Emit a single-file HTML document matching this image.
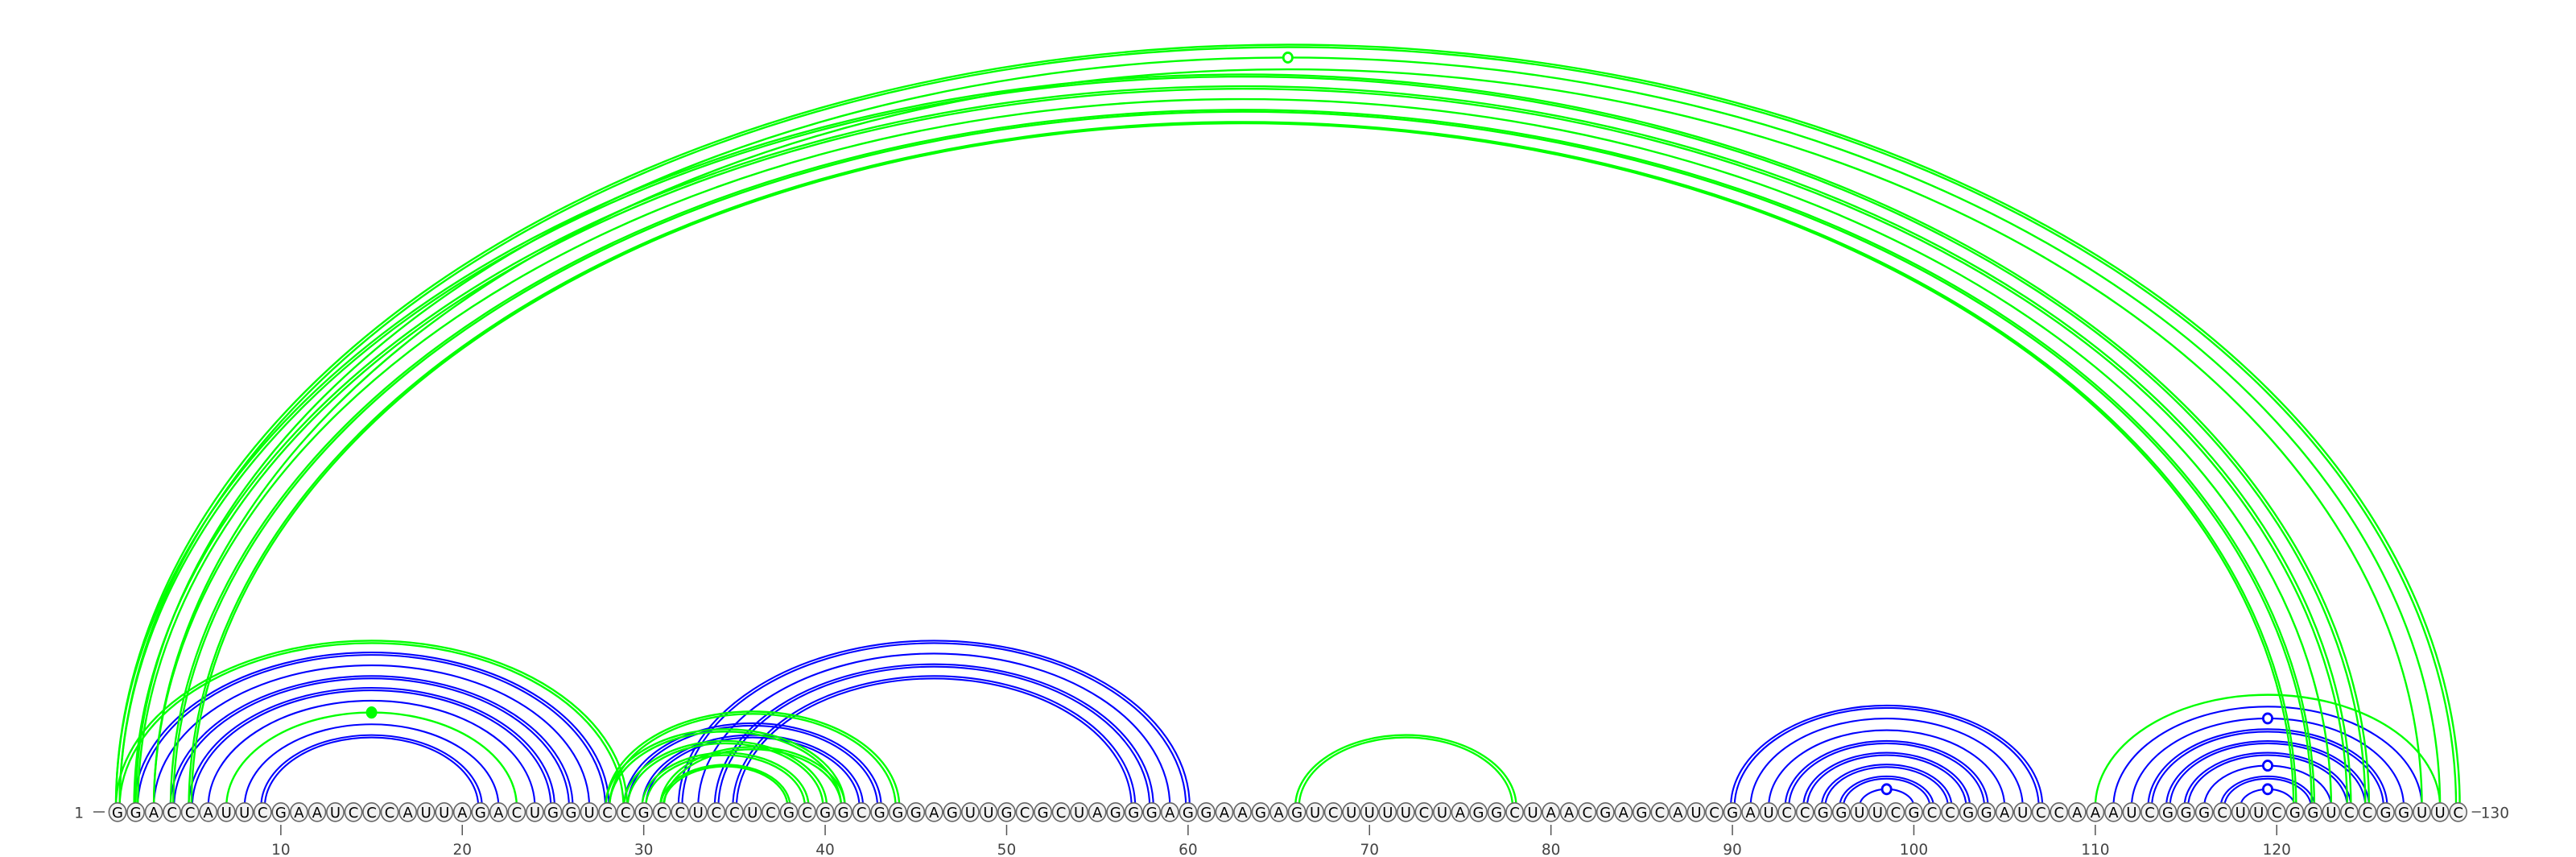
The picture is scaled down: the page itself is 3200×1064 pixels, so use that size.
<!DOCTYPE html>
<html>
<head>
<meta charset="utf-8">
<title>RNA arc diagram</title>
<style>
html,body{margin:0;padding:0;background:#fff;width:3200px;height:1064px;overflow:hidden}
svg{display:block}
text{font-family:"DejaVu Sans","Liberation Sans",sans-serif}
</style>
</head>
<body>
<svg id="chart" xmlns="http://www.w3.org/2000/svg" width="3200" height="1064" viewBox="0 0 3200 1064">
<rect width="3200" height="1064" fill="#fff"/>
<g id="blue-arcs" fill="none" stroke="#0000ff" stroke-width="2.1"></g>
<g id="green-arcs" fill="none" stroke="#00ff00" stroke-width="2.4"></g>
<g id="markers"></g>
<g id="bases"></g>
<g id="ticks"></g>
</svg>
<script>
// Sequence
const sequence = "GGACCAUUCGAAUCCCAUUAGACUGGUCCGCCUCCUCGCGGCGGGAGUUGCGCUAGGGAGGAAGAGUCUUUUCUAGGCUAACGAGCAUCGAUCCGGUUCGCCGGAUCCAAAUCGGGCUUCGGUCCGGUUC";
// Blue base pairs (strands: 1 = single line, 2 = doubled line, 3 = tightly doubled line)
const blueStarts  = [2,3,4,5,6,8,9, 29,30, 32,33,34,35, 90,91,92,93,94,95,96,97, 111,112,113,114,115,116,117,118];
const blueEnds    = [28,27,26,25,24,22,21, 43,42, 60,59,58,57, 107,106,105,104,103,102,101,100, 128,127,126,125,124,123,122,121];
const blueStrands = [2,1,2,2,1,1,2, 2,2, 2,1,2,2, 2,1,1,2,2,2,2,1, 1,1,2,2,2,1,2,1];
// Green base pairs
const greenStarts  = [1,2,3,1,2,3,4,5, 1,7, 28,28,29,31,30,31, 66, 110];
const greenEnds    = [130,129,128,125,124,123,122,121, 29,23, 44,41,40,41,39,38, 78, 129];
const greenStrands = [2,1,1,2,2,1,3,3, 2,1, 2,2,2,2,2,3, 2, 1];
// Markers sitting on the apex of an arc
const markerStarts = [2,7,97,112,116,118];
const markerEnds   = [129,23,100,127,123,121];
const markerColors = ["#00ff00","#00ff00","#0000ff","#0000ff","#0000ff","#0000ff"];
const markerFilled = [false,true,false,false,false,false];
// Axis
const tickPositions = [10,20,30,40,50,60,70,80,90,100,110,120];
const firstPosition = 1;
const lastPosition = 130;

const NS = "http://www.w3.org/2000/svg";
function xScale(pos){ return 146 + (pos - 1) * 22.54; }
const arcBaseY = 1001.8;
const arcAspect = 0.65;
function arcRadiusX(a, b){ return (xScale(b) - xScale(a)) / 2; }
function arcApexY(a, b){ return arcBaseY - arcRadiusX(a, b) * arcAspect; }
function strandOffsets(kind){
  if (kind === 2) return [2.0, -2.6];
  if (kind === 3) return [1.6, -1.6];
  return [0];
}

function arcPath(a, b, offset){
  const rx = arcRadiusX(a, b) + offset;
  const cx = (xScale(a) + xScale(b)) / 2;
  const ry = rx * arcAspect;
  return "M" + (cx - rx).toFixed(2) + " " + arcBaseY + " A" + rx.toFixed(2) + " " + ry.toFixed(2) + " 0 0 1 " + (cx + rx).toFixed(2) + " " + arcBaseY;
}

function drawArcs(groupId, starts, ends, strands, label){
  const group = document.getElementById(groupId);
  starts.forEach(function(s, n){
    strandOffsets(strands[n]).forEach(function(off){
      const p = document.createElementNS(NS, "path");
      p.setAttribute("d", arcPath(s, ends[n], off));
      
      
      group.appendChild(p);
    });
  });
}
drawArcs("blue-arcs", blueStarts, blueEnds, blueStrands, "blue-base-pair-arc");
drawArcs("green-arcs", greenStarts, greenEnds, greenStrands, "green-base-pair-arc");

const markerGroup = document.getElementById("markers");
markerStarts.forEach(function(s, n){
  const e = markerEnds[n];
  const c = document.createElementNS(NS, "ellipse");
  c.setAttribute("cx", (xScale(s) + xScale(e)) / 2);
  c.setAttribute("cy", arcApexY(s, e));
  c.setAttribute("rx", markerFilled[n] ? 6.8 : 5.6);
  c.setAttribute("ry", markerFilled[n] ? 7.4 : 6);
  c.setAttribute("fill", markerFilled[n] ? markerColors[n] : "#fff");
  c.setAttribute("stroke", markerColors[n]);
  c.setAttribute("stroke-width", markerFilled[n] ? 0.5 : 2.8);
  
  
  markerGroup.appendChild(c);
});

const baseGroup = document.getElementById("bases");
sequence.split("").forEach(function(letter, n){
  const pos = n + 1;
  const e = document.createElementNS(NS, "ellipse");
  e.setAttribute("cx", xScale(pos));
  e.setAttribute("cy", 1008.3);
  e.setAttribute("rx", 10.6);
  e.setAttribute("ry", 11.5);
  e.setAttribute("fill", "#f2f2f2");
  e.setAttribute("stroke", "#666");
  e.setAttribute("stroke-width", 1.6);
  
  
  baseGroup.appendChild(e);
  const t = document.createElementNS(NS, "text");
  t.setAttribute("x", xScale(pos));
  t.setAttribute("y", 1015);
  t.setAttribute("text-anchor", "middle");
  t.setAttribute("font-size", "18");
  t.setAttribute("fill", "#000");
  t.textContent = letter;
  
  
  baseGroup.appendChild(t);
});

const tickGroup = document.getElementById("ticks");
tickPositions.forEach(function(pos){
  const l = document.createElementNS(NS, "line");
  l.setAttribute("x1", xScale(pos));
  l.setAttribute("x2", xScale(pos));
  l.setAttribute("y1", 1024);
  l.setAttribute("y2", 1037);
  l.setAttribute("stroke", "#555");
  l.setAttribute("stroke-width", 1.5);
  
  
  tickGroup.appendChild(l);
  const t = document.createElementNS(NS, "text");
  t.setAttribute("x", xScale(pos));
  t.setAttribute("y", 1061);
  t.setAttribute("text-anchor", "middle");
  t.setAttribute("font-size", "18.5");
  t.setAttribute("fill", "#444");
  t.textContent = String(pos);
  
  
  tickGroup.appendChild(t);
});

const startLabel = document.createElementNS(NS, "text");
startLabel.setAttribute("x", xScale(firstPosition) - 42);
startLabel.setAttribute("y", 1015.5);
startLabel.setAttribute("text-anchor", "end");
startLabel.setAttribute("font-size", "18.5");
startLabel.setAttribute("fill", "#444");
startLabel.textContent = String(firstPosition);


tickGroup.appendChild(startLabel);

const startDash = document.createElementNS(NS, "line");
startDash.setAttribute("x1", xScale(firstPosition) - 30);
startDash.setAttribute("x2", xScale(firstPosition) - 16);
startDash.setAttribute("y1", 1008);
startDash.setAttribute("y2", 1008);
startDash.setAttribute("stroke", "#555");
startDash.setAttribute("stroke-width", 1.5);


tickGroup.appendChild(startDash);

const endDash = document.createElementNS(NS, "line");
endDash.setAttribute("x1", xScale(lastPosition) + 17);
endDash.setAttribute("x2", xScale(lastPosition) + 28);
endDash.setAttribute("y1", 1008);
endDash.setAttribute("y2", 1008);
endDash.setAttribute("stroke", "#555");
endDash.setAttribute("stroke-width", 1.5);


tickGroup.appendChild(endDash);

const endLabel = document.createElementNS(NS, "text");
endLabel.setAttribute("x", xScale(lastPosition) + 28);
endLabel.setAttribute("y", 1015.5);
endLabel.setAttribute("font-size", "18.5");
endLabel.setAttribute("fill", "#444");
endLabel.textContent = String(lastPosition);


tickGroup.appendChild(endLabel);
</script>
</body>
</html>
